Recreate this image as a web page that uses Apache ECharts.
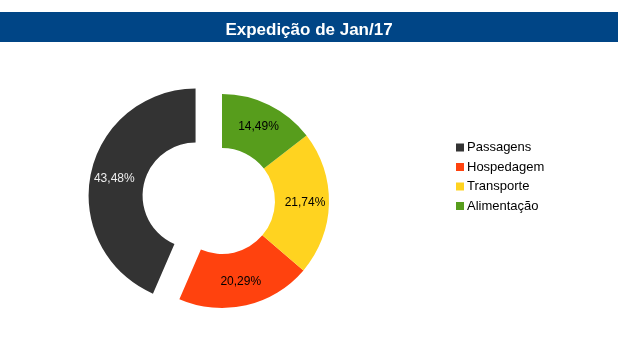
<!DOCTYPE html>
<html>
<head>
<meta charset="utf-8">
<script src="https://cdn.jsdelivr.net/npm/echarts@6/dist/echarts.min.js"></script>
<style>
  html, body { margin: 0; padding: 0; background: #fff; }
  #chart { width: 618px; height: 352px; }
</style>
</head>
<body>
<div id="chart"></div>
<script>
const categories = ["Passagens", "Hospedagem", "Transporte", "Alimentação"];
const values = [30, 14, 15, 10];
const colors = ["#333333", "#ff420e", "#ffd320", "#579d1c"];
const labelColors = ["#eeeeee", "#000000", "#000000", "#000000"];
const explodedIndex = 0;

const total = values.reduce((a, b) => a + b, 0);
const pct = (v) => ((v / total) * 100).toFixed(2).replace(".", ",") + "%";

const chart = echarts.init(document.getElementById("chart"), null, { renderer: "canvas" });

chart.setOption({
  animation: false,
  textStyle: { fontFamily: "Liberation Sans" },
  graphic: [
    {
      type: "rect",
      left: 0,
      top: 12,
      shape: { width: 618, height: 30 },
      style: { fill: "#004586" },
      z: 0,
    },
  ],
  title: {
    text: "Expedição de Jan/17",
    left: "center",
    top: 17,
    textStyle: { color: "#ffffff", fontSize: 17, fontWeight: "bold", fontFamily: "Liberation Sans" },
    z: 10,
  },
  legend: {
    orient: "vertical",
    left: 451,
    top: 136,
    icon: "rect",
    itemWidth: 8,
    itemHeight: 8,
    itemGap: 6.5,
    selectedMode: false,
    textStyle: { fontSize: 13, color: "#000", fontFamily: "Liberation Sans", padding: [0, 0, 0, -2] },
    data: categories,
  },
  series: [
    {
      type: "pie",
      center: [222, 201],
      radius: [53, 107],
      startAngle: 90,
      clockwise: false,
      selectedMode: "single",
      selectedOffset: 27,
      emphasis: { disabled: true },
      label: {
        position: "inside",
        fontSize: 12,
        fontFamily: "Liberation Sans",
        formatter: (p) => pct(p.value),
      },
      labelLine: { show: false },
      data: categories.map((name, i) => ({
        name,
        value: values[i],
        selected: i === explodedIndex,
        itemStyle: { color: colors[i] },
        label: { color: labelColors[i] },
      })),
    },
  ],
});
</script>
</body>
</html>
